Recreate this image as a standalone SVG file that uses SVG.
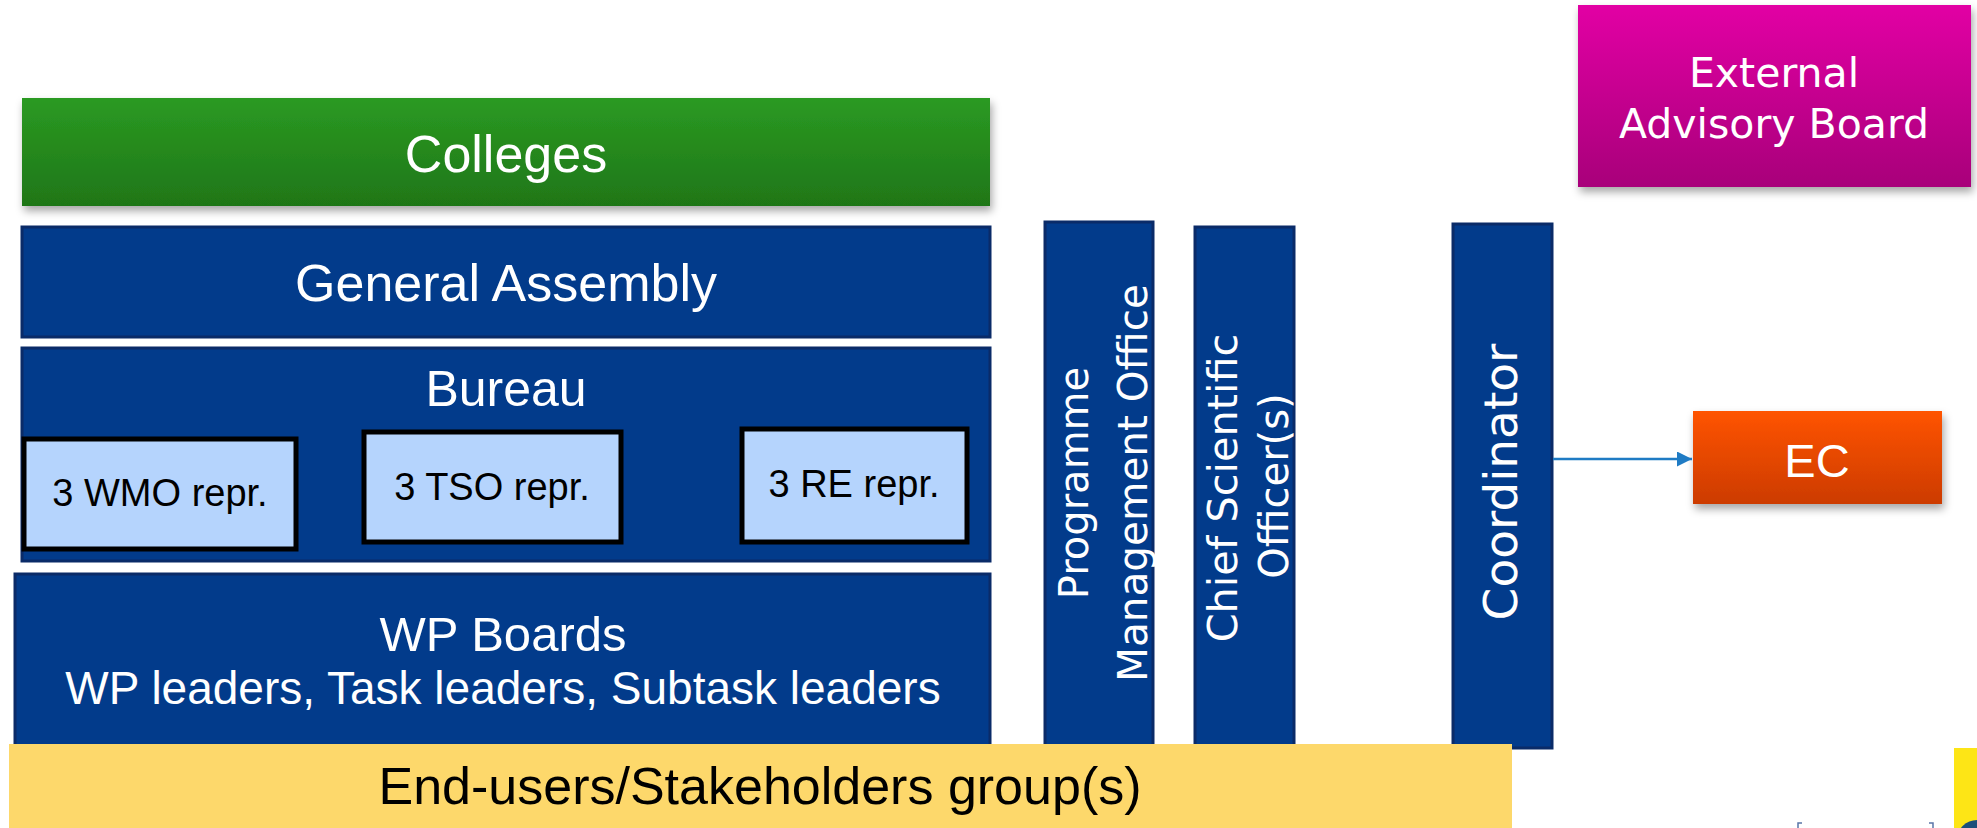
<svg xmlns="http://www.w3.org/2000/svg" width="1977" height="828" viewBox="0 0 1977 828">
<defs>
<linearGradient id="gGreen" x1="0" y1="0" x2="0" y2="1"><stop offset="0" stop-color="#2b9a22"/><stop offset="1" stop-color="#1f7618"/></linearGradient>
<linearGradient id="gMag" x1="0" y1="0" x2="0" y2="1"><stop offset="0" stop-color="#e200a4"/><stop offset="1" stop-color="#a8007a"/></linearGradient>
<linearGradient id="gOra" x1="0" y1="0" x2="0" y2="1"><stop offset="0" stop-color="#ff5400"/><stop offset="1" stop-color="#cc3b00"/></linearGradient>
<filter id="sh" x="-5%" y="-10%" width="112%" height="130%"><feDropShadow dx="2" dy="5" stdDeviation="4" flood-color="#000" flood-opacity="0.35"/></filter>
<marker id="ah" viewBox="0 0 10 10" refX="10" refY="5" markerWidth="6" markerHeight="6" orient="auto" markerUnits="strokeWidth"><path d="M0,0 L10,5 L0,10 z" fill="#1f7bc4"/></marker>
<style>
.blue{fill:#023b8b;stroke:#0a2b68;stroke-width:3}
.lb{fill:#b5d4fd;stroke:#000;stroke-width:5}
.h{font-family:"Liberation Sans",Arial,sans-serif;fill:#fff;text-anchor:middle}
.hb{font-family:"Liberation Sans",Arial,sans-serif;fill:#000;text-anchor:middle}
.v{font-family:"DejaVu Sans",Verdana,sans-serif;fill:#fff;text-anchor:middle}
</style>
</defs>
<rect width="1977" height="828" fill="#fff"/>

<g id="colleges"><rect x="22" y="98" width="968" height="108" fill="url(#gGreen)" filter="url(#sh)"/><text class="h" x="506" y="172" font-size="52">Colleges</text></g>
<g id="general-assembly"><rect class="blue" x="22" y="227" width="968" height="110"/><text class="h" x="506" y="301" font-size="52">General Assembly</text></g>
<g id="bureau"><rect class="blue" x="22" y="348" width="968" height="213"/><text class="h" x="506" y="406" font-size="50">Bureau</text></g>
<g id="wmo"><rect class="lb" x="24" y="439" width="272" height="110"/><text class="hb" x="160" y="506" font-size="38">3 WMO repr.</text></g>
<g id="tso"><rect class="lb" x="364" y="432" width="257" height="110"/><text class="hb" x="492" y="500" font-size="38">3 TSO repr.</text></g>
<g id="re"><rect class="lb" x="742" y="429" width="225" height="113"/><text class="hb" x="854" y="497" font-size="38">3 RE repr.</text></g>
<g id="wp-boards"><rect class="blue" x="15" y="574" width="975" height="175"/><text class="h" x="503" y="651" font-size="49">WP Boards</text><text class="h" x="503" y="704" font-size="46">WP leaders, Task leaders, Subtask leaders</text></g>

<g id="pmo"><rect class="blue" x="1045" y="222" width="108" height="526"/>
<text class="v" font-size="40" transform="translate(1088,483) rotate(-90)" x="0" y="0">Programme</text>
<text class="v" font-size="40.5" transform="translate(1147,483) rotate(-90)" x="0" y="0">Management Office</text></g>
<g id="cso"><rect class="blue" x="1195" y="227" width="99" height="521"/>
<text class="v" font-size="41.4" transform="translate(1237,488) rotate(-90)" x="0" y="0">Chief Scientific</text>
<text class="v" font-size="40" transform="translate(1288,486) rotate(-90)" x="0" y="0">Officer(s)</text></g>
<g id="coordinator"><rect class="blue" x="1453" y="224" width="99" height="524"/>
<text class="v" font-size="47" transform="translate(1517,482) rotate(-90)" x="0" y="0">Coordinator</text></g>

<g id="end-users"><rect x="9" y="744" width="1503" height="84" fill="#fdd86b"/><text class="hb" x="760" y="804" font-size="52">End-users/Stakeholders group(s)</text></g>

<g id="eab"><rect x="1578" y="5" width="393" height="182" fill="url(#gMag)" filter="url(#sh)"/>
<text class="v" x="1774" y="87" font-size="41">External</text><text class="v" x="1774" y="138" font-size="41">Advisory Board</text></g>
<g id="ec"><rect x="1693" y="411" width="249" height="93" fill="url(#gOra)" filter="url(#sh)"/><text class="h" x="1817" y="477" font-size="47">EC</text></g>

<g id="connectors"><line x1="1553" y1="459" x2="1692" y2="459" stroke="#1f7bc4" stroke-width="2.5" marker-end="url(#ah)"/></g>

<g id="corner"><rect x="1954" y="748" width="23" height="80" fill="#fde516"/><circle cx="1977" cy="840" r="20" fill="#1b4f7a"/>
<path d="M1802,823 h-4 v5 M1929,823 h4 v5" fill="none" stroke="#5a76a8" stroke-width="1.5"/></g>
</svg>
